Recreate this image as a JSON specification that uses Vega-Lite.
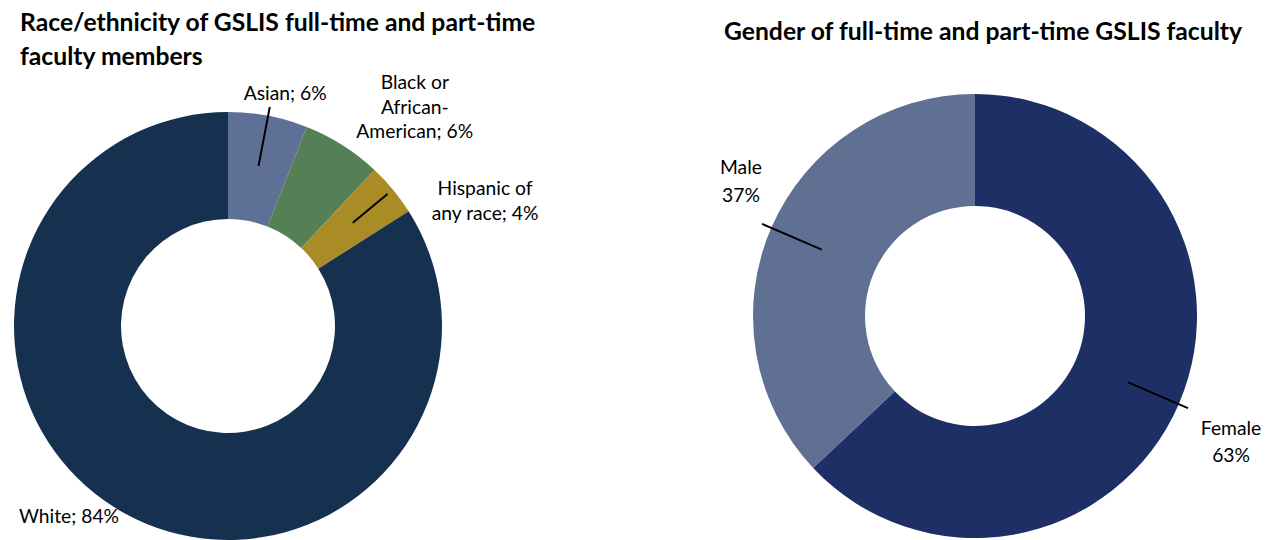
{
  "$schema": "https://vega.github.io/schema/vega-lite/v6.json",
  "padding": {"left": 0, "top": 10, "right": 0, "bottom": 0},
  "bounds": "flush",
  "spacing": 269,
  "resolve": {"scale": {"color": "independent", "theta": "independent"}},
  "config": {
    "view": {"stroke": null},
    "font": "Lato",
    "title": {"fontSize": 24.7, "fontWeight": "bold", "color": "#000000", "font": "Lato", "frame": "group"},
    "text": {"font": "Lato", "fontSize": 19.3, "color": "#000000"}
  },
  "hconcat": [
    {
      "width": 456,
      "height": 426,
      "title": {
        "text": ["Race/ethnicity of GSLIS full-time and part-time", "faculty members"],
        "anchor": "start",
        "frame": "group",
        "dx": 20,
        "lineHeight": 34,
        "offset": 5
      },
      "data": {
        "values": [
          {"group": "Asian", "value": 6, "label": "Asian; 6%"},
          {"group": "Black or African-American", "value": 6, "label": "Black or\nAfrican-\nAmerican; 6%"},
          {"group": "Hispanic of any race", "value": 4, "label": "Hispanic of\nany race; 4%"},
          {"group": "White", "value": 84, "label": "White; 84%"}
        ]
      },
      "transform": [
        {"stack": "value", "groupby": [], "sort": [{"field": "group", "order": "ascending"}], "as": ["v0", "v1"]},
        {"fold": ["v0", "v1"], "as": ["k", "t"]},
        {"joinaggregate": [{"op": "mean", "field": "t", "as": "mid"}], "groupby": ["group"]},
        {"filter": "datum.k == 'v0'"}
      ],
      "layer": [
        {
          "mark": {"type": "arc", "outerRadius": 214, "innerRadius": 107},
          "encoding": {
            "theta": {"field": "v0", "type": "quantitative", "scale": {"domain": [0, 100]}},
            "theta2": {"field": "v1"},
            "color": {
              "field": "group",
              "type": "nominal",
              "scale": {
                "domain": ["Asian", "Black or African-American", "Hispanic of any race", "White"],
                "range": ["#5e7096", "#558055", "#a98c26", "#16304f"]
              },
              "legend": null
            }
          }
        },
        {
          "transform": [{"filter": "datum.group == 'Asian'"}],
          "mark": {"type": "arc", "innerRadius": 163, "outerRadius": 223, "filled": false, "stroke": "#000000", "strokeWidth": 2},
          "encoding": {
            "theta": {"field": "mid", "type": "quantitative", "scale": {"domain": [0, 100]}},
            "theta2": {"field": "mid"}
          }
        },
        {
          "transform": [{"filter": "datum.group == 'Hispanic of any race'"}],
          "mark": {"type": "arc", "innerRadius": 162, "outerRadius": 207, "filled": false, "stroke": "#000000", "strokeWidth": 2},
          "encoding": {
            "theta": {"field": "mid", "type": "quantitative", "scale": {"domain": [0, 100]}},
            "theta2": {"field": "mid"}
          }
        },
        {
          "transform": [{"filter": "datum.group == 'Asian'"}],
          "mark": {"type": "text", "radius": 236, "dx": 13, "align": "center", "baseline": "middle", "lineBreak": "\n", "lineHeight": 25},
          "encoding": {
            "theta": {"field": "mid", "type": "quantitative", "scale": {"domain": [0, 100]}},
            "text": {"field": "label"}
          }
        },
        {
          "transform": [{"filter": "datum.group == 'Black or African-American'"}],
          "mark": {"type": "text", "radius": 259, "dx": 48, "dy": -24, "align": "center", "baseline": "middle", "lineBreak": "\n", "lineHeight": 24.5},
          "encoding": {
            "theta": {"field": "mid", "type": "quantitative", "scale": {"domain": [0, 100]}},
            "text": {"field": "label"}
          }
        },
        {
          "transform": [{"filter": "datum.group == 'Hispanic of any race'"}],
          "mark": {"type": "text", "radius": 270, "dx": 49, "dy": 35, "align": "center", "baseline": "middle", "lineBreak": "\n", "lineHeight": 25},
          "encoding": {
            "theta": {"field": "mid", "type": "quantitative", "scale": {"domain": [0, 100]}},
            "text": {"field": "label"}
          }
        },
        {
          "transform": [{"filter": "datum.group == 'White'"}],
          "mark": {"type": "text", "radius": 218, "dx": -54, "align": "center", "baseline": "middle", "lineBreak": "\n", "lineHeight": 25},
          "encoding": {
            "theta": {"field": "mid", "type": "quantitative", "scale": {"domain": [0, 100]}},
            "text": {"field": "label"}
          }
        }
      ]
    },
    {
      "width": 500,
      "height": 406,
      "title": {
        "text": "Gender of full-time and part-time GSLIS faculty",
        "anchor": "middle",
        "frame": "group",
        "dx": 8,
        "offset": 49
      },
      "data": {
        "values": [
          {"group": "Female", "value": 63, "label": "Female\n63%"},
          {"group": "Male", "value": 37, "label": "Male\n37%"}
        ]
      },
      "transform": [
        {"stack": "value", "groupby": [], "sort": [{"field": "group", "order": "ascending"}], "as": ["v0", "v1"]},
        {"fold": ["v0", "v1"], "as": ["k", "t"]},
        {"joinaggregate": [{"op": "mean", "field": "t", "as": "mid"}], "groupby": ["group"]},
        {"filter": "datum.k == 'v0'"}
      ],
      "layer": [
        {
          "mark": {"type": "arc", "outerRadius": 222, "innerRadius": 110},
          "encoding": {
            "theta": {"field": "v0", "type": "quantitative", "scale": {"domain": [0, 100]}},
            "theta2": {"field": "v1"},
            "color": {
              "field": "group",
              "type": "nominal",
              "scale": {"domain": ["Female", "Male"], "range": ["#1d2f65", "#5f7093"]},
              "legend": null
            }
          }
        },
        {
          "mark": {"type": "arc", "innerRadius": 167, "outerRadius": 232, "filled": false, "stroke": "#000000", "strokeWidth": 2},
          "encoding": {
            "theta": {"field": "mid", "type": "quantitative", "scale": {"domain": [0, 100]}},
            "theta2": {"field": "mid"}
          }
        },
        {
          "transform": [{"filter": "datum.group == 'Male'"}],
          "mark": {"type": "text", "radius": 255, "dy": -47, "align": "center", "baseline": "middle", "lineBreak": "\n", "lineHeight": 28},
          "encoding": {
            "theta": {"field": "mid", "type": "quantitative", "scale": {"domain": [0, 100]}},
            "text": {"field": "label"}
          }
        },
        {
          "transform": [{"filter": "datum.group == 'Female'"}],
          "mark": {"type": "text", "radius": 279, "dy": 2, "align": "center", "baseline": "middle", "lineBreak": "\n", "lineHeight": 27},
          "encoding": {
            "theta": {"field": "mid", "type": "quantitative", "scale": {"domain": [0, 100]}},
            "text": {"field": "label"}
          }
        }
      ]
    }
  ]
}
